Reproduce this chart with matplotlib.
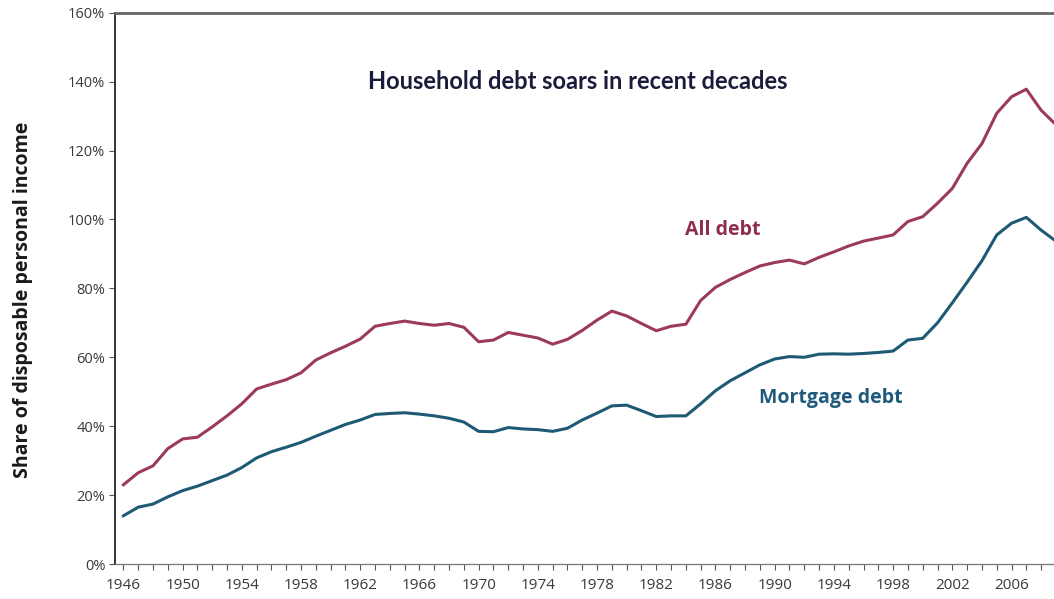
import matplotlib.pyplot as plt
from matplotlib.ticker import FixedLocator, PercentFormatter

years = list(range(1946, 2010))

# household debt as a share of disposable personal income, percent
all_debt = [
    23.0, 26.5, 28.5, 33.5, 36.3, 36.8, 39.8, 43.0, 46.5, 50.8,
    52.2, 53.5, 55.5, 59.2, 61.3, 63.2, 65.3, 69.0, 69.8, 70.5,
    69.8, 69.3, 69.8, 68.7, 64.5, 65.0, 67.2, 66.4, 65.6, 63.8,
    65.2, 67.8, 70.8, 73.4, 72.0, 69.8, 67.7, 69.0, 69.6, 76.5,
    80.3, 82.6, 84.6, 86.5, 87.5, 88.2, 87.1, 89.0, 90.6, 92.3,
    93.7, 94.6, 95.5, 99.4, 100.8, 104.7, 109.0, 116.3, 122.0, 130.8,
    135.6, 137.8, 131.7, 127.5,
]
mortgage_debt = [
    14.0, 16.5, 17.4, 19.5, 21.3, 22.6, 24.2, 25.8, 28.0, 30.8,
    32.6, 33.9, 35.3, 37.1, 38.8, 40.5, 41.8, 43.4, 43.7, 43.9,
    43.5, 43.0, 42.3, 41.2, 38.5, 38.4, 39.6, 39.2, 39.0, 38.5,
    39.4, 41.8, 43.8, 45.9, 46.1, 44.5, 42.8, 43.0, 43.0, 46.5,
    50.3, 53.2, 55.5, 57.8, 59.5, 60.2, 60.0, 60.9, 61.0, 60.9,
    61.1, 61.4, 61.8, 65.0, 65.5, 70.0, 75.8, 81.8, 88.0, 95.5,
    98.9, 100.6, 96.9, 93.7,
]
year_labels = list(range(1946, 2007, 4))
pct_ticks = [0, 20, 40, 60, 80, 100, 120, 140, 160]

RED = '#9c3a5a'
BLUE = '#1e5a74'
TICK_GREY = '#3a3a3a'

fig = plt.figure(figsize=(10.54, 5.99), dpi=100)
ax = fig.add_axes([0.1091, 0.0584, 0.8909, 0.9204])

ax.plot(years, all_debt, color=RED, lw=2.2, solid_joinstyle='round')
ax.plot(years, mortgage_debt, color=BLUE, lw=2.2, solid_joinstyle='round')

ax.set_xlim(1945.43, 2008.87)
ax.set_ylim(0, 160)

ax.xaxis.set_major_locator(FixedLocator(year_labels))
ax.xaxis.set_minor_locator(FixedLocator(years))
ax.yaxis.set_major_locator(FixedLocator(pct_ticks))
ax.yaxis.set_major_formatter(PercentFormatter(decimals=0))

ax.tick_params(axis='x', which='both', direction='out', length=4, width=0.8,
               color='#555555', labelsize=11, labelcolor=TICK_GREY, pad=6)
ax.tick_params(axis='y', direction='out', length=4, width=0.8,
               color='#555555', labelsize=10.5, labelcolor=TICK_GREY, pad=3)
for lab in ax.get_xticklabels() + ax.get_yticklabels():
    lab.set_family('Open Sans')

ax.spines['right'].set_visible(False)
ax.spines['left'].set_color('#333333')
ax.spines['left'].set_linewidth(1.4)
ax.spines['top'].set_color('#666666')
ax.spines['top'].set_linewidth(2.0)
ax.spines['bottom'].set_color('#777777')
ax.spines['bottom'].set_linewidth(0.9)

ax.set_ylabel('Share of disposable personal income', fontsize=14,
              fontweight='bold', family='Open Sans', color='#1a1a1a')
ax.yaxis.set_label_coords(-0.087, 0.479)

ax.text(1976.7, 140, 'Household debt soars in recent decades', ha='center',
        va='center', fontsize=17, fontweight='bold', family='Lato', color='#1b1b3a')
ax.text(1986.5, 97, 'All debt', ha='center', va='center', fontsize=14,
        fontweight='bold', family='Open Sans', color='#8e2e50')
ax.text(1993.8, 48.2, 'Mortgage debt', ha='center', va='center', fontsize=14,
        fontweight='bold', family='Open Sans', color='#1f5a7c')

fig.savefig('out.png', dpi=100)
